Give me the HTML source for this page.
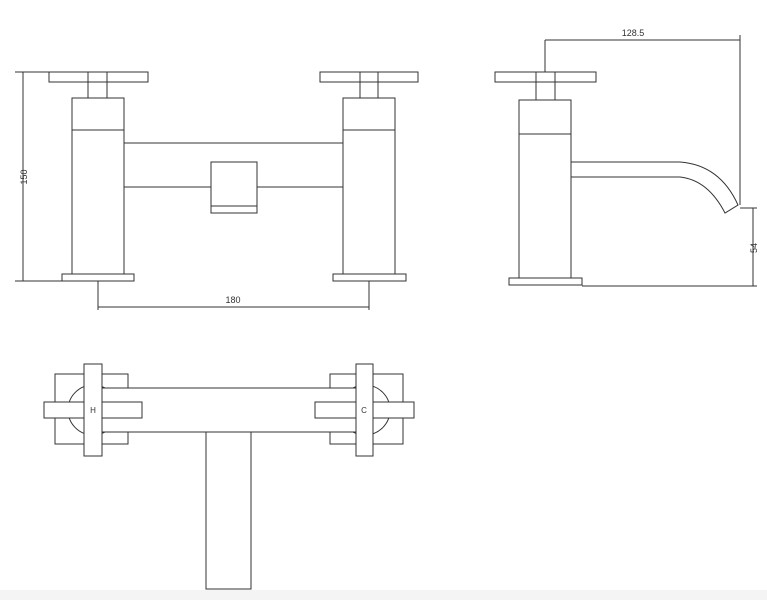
<!DOCTYPE html>
<html><head><style>
html,body{margin:0;padding:0;background:#fff;}
svg{display:block;}
text{font-family:"Liberation Sans",sans-serif;font-size:9px;fill:#333;}
</style></head><body>
<svg width="767" height="600" viewBox="0 0 767 600" xmlns="http://www.w3.org/2000/svg">
<rect x="0" y="590" width="767" height="10" fill="#f4f4f4"/>
<g fill="#fff" stroke="#333" stroke-width="1">
<!-- front view -->
<rect x="124" y="143" width="219" height="44"/>
<rect x="211" y="162" width="46" height="51"/>
<line x1="211" y1="206" x2="257" y2="206"/>
<rect x="49" y="72" width="99" height="10"/>
<rect x="88" y="82" width="19" height="16"/>
<line x1="88" y1="72" x2="88" y2="82"/><line x1="107" y1="72" x2="107" y2="82"/>
<rect x="72" y="98" width="52" height="176"/>
<line x1="72" y1="130" x2="124" y2="130"/>
<rect x="62" y="274" width="72" height="7"/>
<rect x="320" y="72" width="98" height="10"/>
<rect x="360" y="82" width="18" height="16"/>
<line x1="360" y1="72" x2="360" y2="82"/><line x1="378" y1="72" x2="378" y2="82"/>
<rect x="343" y="98" width="52" height="176"/>
<line x1="343" y1="130" x2="395" y2="130"/>
<rect x="333" y="274" width="73" height="7"/>
<!-- dims front -->
<line x1="23" y1="72" x2="23" y2="281"/>
<line x1="15" y1="72" x2="49" y2="72"/>
<line x1="15" y1="281" x2="62" y2="281"/>
<line x1="98" y1="281" x2="98" y2="310"/>
<line x1="369" y1="281" x2="369" y2="310"/>
<line x1="98" y1="307" x2="369" y2="307"/>
<!-- side view -->
<path d="M571 162 H680 Q720 165 738 205 L725 213 Q708 180 680 177 H571" />
<rect x="495" y="72" width="101" height="10"/>
<rect x="536" y="82" width="19" height="18"/>
<line x1="536" y1="72" x2="536" y2="82"/><line x1="555" y1="72" x2="555" y2="82"/>
<rect x="519" y="100" width="52" height="178"/>
<line x1="519" y1="134" x2="571" y2="134"/>
<rect x="509" y="278" width="73" height="7"/>
<line x1="545" y1="40" x2="545" y2="72"/>
<line x1="545" y1="40" x2="740" y2="40"/>
<line x1="740" y1="35" x2="740" y2="205"/>
<line x1="740" y1="208" x2="757" y2="208"/>
<line x1="753" y1="208" x2="753" y2="286"/>
<line x1="582" y1="286" x2="757" y2="286"/>
<!-- top view -->
<rect x="206" y="432" width="45" height="157"/>
<rect x="55" y="374" width="73" height="70"/>
<circle cx="93" cy="410" r="25"/>
<rect x="330" y="374" width="73" height="70"/>
<circle cx="365" cy="410" r="25"/>
<rect x="102" y="388" width="254" height="44"/>
<rect x="44" y="402" width="98" height="16"/>
<rect x="84" y="364" width="18" height="92"/>
<rect x="315" y="402" width="99" height="16"/>
<rect x="356" y="364" width="17" height="92"/>
<line x1="84" y1="402" x2="84" y2="418" />
</g>
<text x="233" y="303" text-anchor="middle">180</text>
<text x="0" y="0" text-anchor="middle" transform="translate(27,177) rotate(-90)">150</text>
<text x="633" y="36" text-anchor="middle">128.5</text>
<text x="0" y="0" text-anchor="middle" transform="translate(757,248) rotate(-90)">54</text>
<text x="93" y="413" text-anchor="middle" style="font-size:8px">H</text>
<text x="364" y="413" text-anchor="middle" style="font-size:8px">C</text>
</svg>
</body></html>
